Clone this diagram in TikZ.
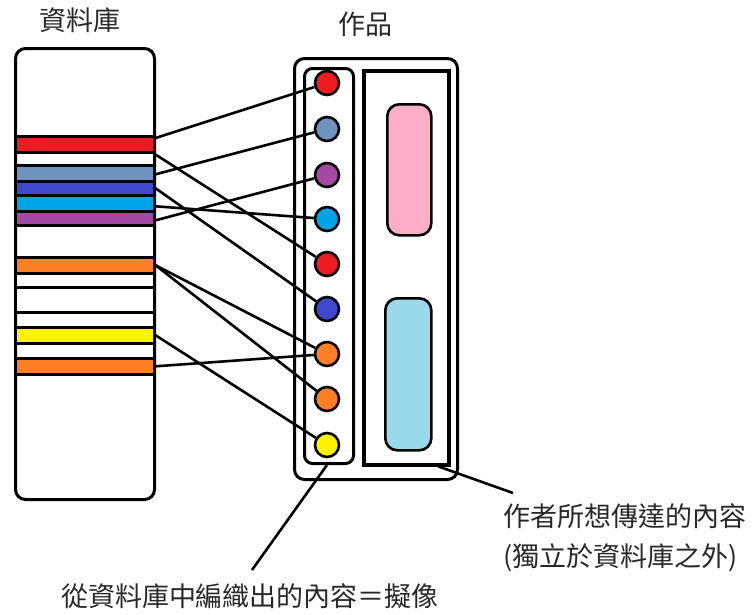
\documentclass[tikz,border=0pt]{standalone}
\usepackage{fontspec}
\newfontfamily\cjk{Noto Sans CJK TC}
\usetikzlibrary{calc}
\definecolor{pRed}{RGB}{237,28,36}
\definecolor{pBlueGray}{RGB}{112,146,190}
\definecolor{pIndigo}{RGB}{63,72,204}
\definecolor{pCyan}{RGB}{0,162,232}
\definecolor{pPurple}{RGB}{163,73,164}
\definecolor{pOrange}{RGB}{255,127,39}
\definecolor{pYellow}{RGB}{255,242,0}
\definecolor{pPink}{RGB}{255,174,201}
\definecolor{pAqua}{RGB}{153,217,234}
\definecolor{txt}{RGB}{40,40,40}
\begin{document}
\begin{tikzpicture}[x=1pt,y=-1pt,
  box/.style={draw, line width=3pt, inner sep=0pt, anchor=north west},
  bar/.style={draw, line width=2.6pt, minimum width=139pt, inner sep=0pt, anchor=north west},
  dot/.style={circle, draw, line width=2.6pt, minimum size=24pt, inner sep=0pt},
  link/.style={line width=2.6pt},
  lbl/.style={font=\cjk\fontsize{27}{32}\selectfont, text=txt, inner sep=0pt}]
\useasboundingbox (0,0) rectangle (753,614);

% database column
\node[box, rounded corners=10pt, minimum width=139pt, minimum height=451pt] (db) at (14,47) {};
\node[bar, fill=pRed,      minimum height=16pt] (bRed)  at (14,135) {};
\node[bar, fill=pBlueGray, minimum height=16pt] (bBG)   at (14,164) {};
\node[bar, fill=pIndigo,   minimum height=14pt] (bInd)  at (14,180) {};
\node[bar, fill=pCyan,     minimum height=16pt] (bCyan) at (14,194) {};
\node[bar, fill=pPurple,   minimum height=14pt] (bPur)  at (14,210) {};
\node[bar, fill=pOrange,   minimum height=16pt] (bOr1)  at (14,256) {};
\node[bar, fill=white,     minimum height=14pt] (bW1)   at (14,272) {};
\node[bar, fill=white,     minimum height=25pt] (bW2)   at (14,286) {};
\node[bar, fill=pYellow,   minimum height=16pt] (bYel)  at (14,326) {};
\node[bar, fill=pOrange,   minimum height=16pt] (bOr2)  at (14,357) {};

% work
\node[box, rounded corners=10pt, minimum width=163pt, minimum height=421pt] (work) at (293,57) {};
\node[box, rounded corners=8pt, minimum width=49pt, minimum height=395pt] (col) at (303,67) {};
\node[box, line width=3.5pt, minimum width=85pt, minimum height=394pt] (msg) at (362,69) {};
\node[box, line width=2.6pt, fill=pPink, rounded corners=12pt, minimum width=44pt, minimum height=131pt] (pk) at (386,103) {};
\node[box, line width=2.6pt, fill=pAqua, rounded corners=12pt, minimum width=46pt, minimum height=152pt] (aq) at (384,297) {};

% dots
\node[dot, fill=pRed]      (c1) at (327,83) {};
\node[dot, fill=pBlueGray] (c2) at (327,129) {};
\node[dot, fill=pPurple]   (c3) at (327,175) {};
\node[dot, fill=pCyan]     (c4) at (327,219) {};
\node[dot, fill=pRed]      (c5) at (327,264) {};
\node[dot, fill=pIndigo]   (c6) at (327,309) {};
\node[dot, fill=pOrange]   (c7) at (327,354) {};
\node[dot, fill=pOrange]   (c8) at (327,399) {};
\node[dot, fill=pYellow]   (c9) at (327,445) {};

% connectors
\draw[link] ($(bRed.north east)+(0,3)$) -- (c1);
\draw[link] ($(bRed.south east)+(0,1)$) -- (c5);
\draw[link] ($(bBG.east)+(0,1)$) -- (c2);
\draw[link] (bInd.east) -- (c6);
\draw[link] ($(bCyan.east)+(0,3)$) -- (c4);
\draw[link] ($(bPur.east)+(0,2)$) -- (c3);
\draw[link] (bOr1.east) -- (c7);
\draw[link] (bOr1.east) -- (c8);
\draw[link] (bYel.east) -- (c9);
\draw[link] (bOr2.east) -- (c7);

% labels
\node[lbl] (tDb) at (80,20) {資料庫};
\node[lbl] (tWork) at (365,24) {作品};
\node[lbl, anchor=west] (tAuth) at (503,516) {作者所想傳達的內容};
\node[lbl, anchor=west] (tInd) at (503,558) {(獨立於資料庫之外)};
\node[lbl] (tSim) at (250,596) {從資料庫中編織出的內容＝擬像};

\coordinate (leadA) at (252,570);
\coordinate (leadB) at (513,493);
\draw[link] ($(col.south)+(-2,0)$) -- (leadA);
\draw[link] ($(msg.south east)+(-12,0)$) -- (leadB);
\end{tikzpicture}
\end{document}
